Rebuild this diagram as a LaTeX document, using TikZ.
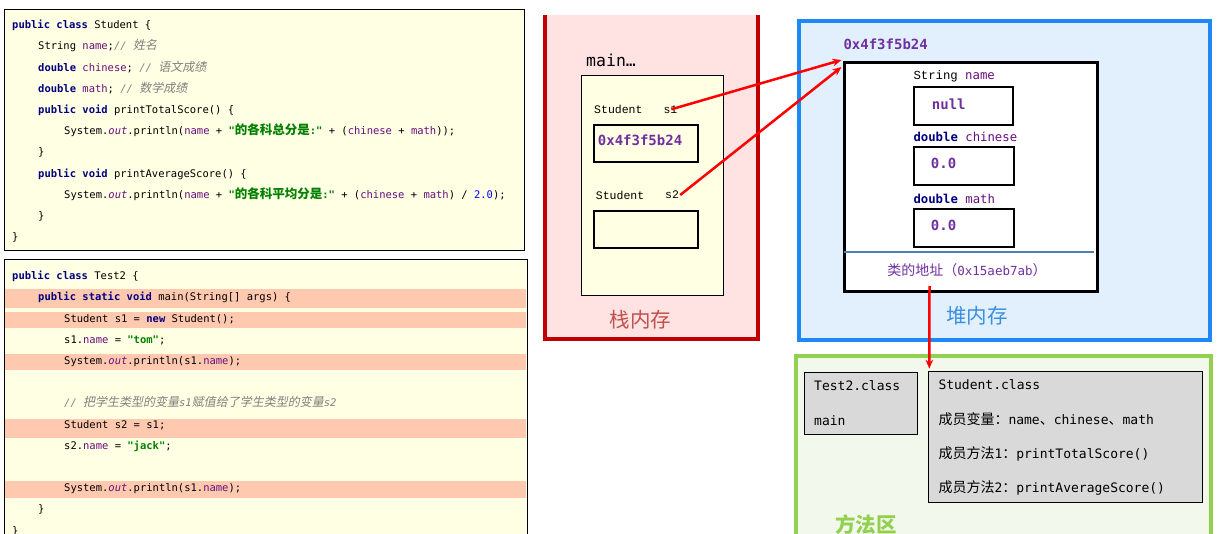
\documentclass[tikz,border=0pt]{standalone}
\usepackage{fontspec}
\setmonofont{DejaVu Sans Mono}
\newfontfamily\cjk{Noto Sans CJK SC}
\newfontfamily\cjkit{Noto Sans CJK SC}[FakeSlant=0.2]
\newfontfamily\serifmono{Liberation Mono}
\usepackage{tikz}
\usetikzlibrary{arrows.meta,positioning}
\definecolor{stackred}{HTML}{C00000}
\definecolor{stackfill}{HTML}{FFE2E2}
\definecolor{stacktext}{HTML}{C0504D}
\definecolor{heapblue}{HTML}{1E88F5}
\definecolor{heapfill}{HTML}{E2F0FE}
\definecolor{heaptext}{HTML}{3B8EE0}
\definecolor{methgreen}{HTML}{92D050}
\definecolor{methfill}{HTML}{F2F9EC}
\definecolor{codefill}{HTML}{FFFFE3}
\definecolor{codemark}{HTML}{FFC9B0}
\definecolor{kwnavy}{HTML}{000080}
\definecolor{fldpurple}{HTML}{660E7A}
\definecolor{valpurple}{HTML}{7030A0}
\definecolor{strgreen}{HTML}{008000}
\definecolor{cmtgray}{HTML}{808080}
\definecolor{numblue}{HTML}{0000FF}
\definecolor{sepblue}{HTML}{4F7EB3}
\definecolor{classgray}{HTML}{D9D9D9}
\newcommand\jkw[1]{{\color{kwnavy}\bfseries #1}}
\newcommand\jfld[1]{{\color{fldpurple}#1}}
\newcommand\jout[1]{{\color{fldpurple}\itshape #1}}
\newcommand\jstr[1]{{\color{strgreen}\bfseries #1}}
\newcommand\jnum[1]{{\color{numblue}#1}}
\newcommand\jcmt[1]{{\color{cmtgray}\itshape #1}}
\newcommand\zhtxt[1]{{\cjk\fontsize{12.5}{12}\selectfont #1}}
\newcommand\zhit[1]{{\cjkit\fontsize{12}{12}\selectfont #1}}
\newcommand\zhbig[1]{{\cjk\fontsize{14}{14}\selectfont #1}}

\begin{document}
\begin{tikzpicture}[x=1pt,y=-1pt,
    code/.style={anchor=west,inner sep=0pt,text height=8pt,text depth=2.5pt,
                 font=\ttfamily\fontsize{10.5}{12}\selectfont},
    cell/.style={draw,line width=2pt,anchor=north west,inner sep=0pt},
    val/.style={anchor=west,inner sep=0pt,text=valpurple,
                font=\ttfamily\bfseries\fontsize{14}{16}\selectfont},
    lbl/.style={anchor=west,inner sep=0pt,font=\serifmono\fontsize{11.5}{13}\selectfont},
    fldlbl/.style={anchor=west,inner sep=0pt,font=\ttfamily\fontsize{12.3}{14}\selectfont},
    area/.style={inner sep=0pt,font=\cjk\fontsize{20.5}{22}\selectfont},
    cls/.style={anchor=west,inner sep=0pt,font=\ttfamily\fontsize{13}{15}\selectfont},
    ref/.style={draw=red,line width=2.5pt,-{Stealth[length=9pt,width=7.5pt]}}]
  \clip (0,0) rectangle (1222,534);

  % Student.java
  \draw[line width=1pt,fill=codefill] (4.5,9.5) rectangle (524.5,250.5);
  \node[code] (a1) at (12,26) {\jkw{public class} Student \{};
  \node[code] (a2) at (38,47.2) {String \jfld{name};\jcmt{// \zhit{姓名}}};
  \node[code] (a3) at (38,68.4) {\jkw{double} \jfld{chinese}; \jcmt{// \zhit{语文成绩}}};
  \node[code] (a4) at (38,89.6) {\jkw{double} \jfld{math}; \jcmt{// \zhit{数学成绩}}};
  \node[code] (a5) at (38,110.8) {\jkw{public void} printTotalScore() \{};
  \node[code] (a6) at (64,132) {System.\jout{out}.println(\jfld{name} + \jstr{"\zhtxt{的各科总分是}:"} + (\jfld{chinese} + \jfld{math}));};
  \node[code] (a7) at (38,153.2) {\}};
  \node[code] (a8) at (38,174.4) {\jkw{public void} printAverageScore() \{};
  \node[code] (a9) at (64,195.6) {System.\jout{out}.println(\jfld{name} + \jstr{"\zhtxt{的各科平均分是}:"} + (\jfld{chinese} + \jfld{math}) / \jnum{2.0});};
  \node[code] (a10) at (38,216.8) {\}};
  \node[code] (a11) at (12,238) {\}};

  % Test2.java
  \draw[line width=1pt,fill=codefill] (4.5,259.5) rectangle (527.5,560);
  \fill[codemark] (5,289) rectangle (526,308);
  \fill[codemark] (5,312) rectangle (526,328);
  \fill[codemark] (5,354) rectangle (526,370);
  \fill[codemark] (5,419) rectangle (526,438);
  \fill[codemark] (5,481) rectangle (526,498);
  \node[code] (b1) at (12,277) {\jkw{public class} Test2 \{};
  \node[code] (b2) at (38,298.2) {\jkw{public static void} main(String[] args) \{};
  \node[code] (b3) at (64,319.4) {Student s1 = \jkw{new} Student();};
  \node[code] (b4) at (64,340.6) {s1.\jfld{name} = \jstr{"tom"};};
  \node[code] (b5) at (64,361.8) {System.\jout{out}.println(s1.\jfld{name});};
  \node[code] (b6) at (64,404.2) {\jcmt{// \zhit{把学生类型的变量}s1\zhit{赋值给了学生类型的变量}s2}};
  \node[code] (b7) at (64,425.4) {Student s2 = s1;};
  \node[code] (b8) at (64,446.6) {s2.\jfld{name} = \jstr{"jack"};};
  \node[code] (b9) at (64,489) {System.\jout{out}.println(s1.\jfld{name});};
  \node[code] (b10) at (38,510.2) {\}};
  \node[code] (b11) at (12,531.4) {\}};

  % stack
  \fill[stackfill] (544,15) rectangle (759,340);
  \draw[stackred,line width=3.5pt] (545,15) -- (545,339) -- (758,339) -- (758,15);
  \draw[line width=1pt,fill=codefill] (581,76) rectangle (723.5,295.5);
  \node[anchor=west,inner sep=0pt,font=\ttfamily\fontsize{16.5}{18}\selectfont] (frame) at (586,60.7) {main…};
  \node[lbl] (s1type) at (594,109.3) {Student};
  \node[lbl] (s1name) at (663.3,109.3) {s1};
  \node[cell,minimum width=103.4pt,minimum height=37.3pt] (s1box) at (593.3,123.7) {};
  \node[val] (s1val) at (597.7,140.7) {0x4f3f5b24};
  \node[lbl] (s2type) at (595.7,195) {Student};
  \node[lbl] (s2name) at (665,195) {s2};
  \node[cell,minimum width=103.4pt,minimum height=37.3pt] (s2box) at (593.3,209.7) {};
  \node[area,text=stacktext] (stacktitle) at (640.5,319.3) {栈内存};

  % heap
  \draw[heapblue,line width=4pt,fill=heapfill] (798.5,21) rectangle (1210,340);
  \node[val] (addr) at (843.3,44.3) {0x4f3f5b24};
  \node[cell,line width=3pt,fill=white,minimum width=253pt,minimum height=229pt] (obj) at (842.5,61) {};
  \node[fldlbl] (fname) at (913.3,76.7) {{\serifmono String} \jfld{name}};
  \node[cell,minimum width=99pt,minimum height=37.4pt] (namebox) at (913,86.3) {};
  \node[val] (nameval) at (931.7,104) {null};
  \node[fldlbl] (fchinese) at (913.3,136.7) {\jkw{double} \jfld{chinese}};
  \node[cell,minimum width=100pt,minimum height=38pt] (chinesebox) at (913,146) {};
  \node[val] (chineseval) at (930.7,163.3) {0.0};
  \node[fldlbl] (fmath) at (913.3,198.7) {\jkw{double} \jfld{math}};
  \node[cell,minimum width=100pt,minimum height=38pt] (mathbox) at (913,208) {};
  \node[val] (mathval) at (930.7,225) {0.0};
  \draw[sepblue,line width=2.2pt] (844,252.3) -- (1094,252.3);
  \node[inner sep=0pt,text=valpurple,font=\ttfamily\fontsize{12.5}{14}\selectfont] (clsaddr) at (967,270)
    {\zhbig{类的地址（}0x15aeb7ab\zhbig{）}};
  \node[area,text=heaptext] (heaptitle) at (977,316) {堆内存};

  % method area
  \draw[methgreen,line width=4pt,fill=methfill] (796,356) rectangle (1210.5,560);
  \node[draw,line width=1pt,fill=classgray,anchor=north west,inner sep=0pt,
        minimum width=113pt,minimum height=62pt] (testcls) at (804.3,372.3) {};
  \node[cls] (testname) at (814,386) {Test2.class};
  \node[cls] (testmain) at (814,420.3) {main};
  \node[draw,line width=1pt,fill=classgray,anchor=north west,inner sep=0pt,
        minimum width=273.4pt,minimum height=131.6pt] (stdcls) at (928.3,370.7) {};
  \node[cls] (stdname) at (938.3,384.3) {Student.class};
  \node[cls] (stdvars) at (938.3,419.3) {\zhbig{成员变量：}name\zhbig{、}chinese\zhbig{、}math};
  \node[cls] (stdm1) at (938.3,454) {\zhbig{成员方法}1\zhbig{：}printTotalScore()};
  \node[cls] (stdm2) at (938.3,488.3) {\zhbig{成员方法}2\zhbig{：}printAverageScore()};
  \node[area,text=methgreen,font=\cjk\bfseries\fontsize{20.5}{22}\selectfont] (methtitle) at (866,525) {方法区};

  % references
  \draw[ref] ([xshift=8pt]s1name.west) -- ([xshift=-1pt,yshift=1pt]obj.north west);
  \draw[ref] ([xshift=1pt]s2name.east) -- ([xshift=-1pt,yshift=-6pt]obj.north west);
  \draw[ref] ([xshift=87pt,yshift=7pt]obj.south west) -- ([xshift=1pt,yshift=2pt]stdcls.north west);
\end{tikzpicture}
\end{document}
